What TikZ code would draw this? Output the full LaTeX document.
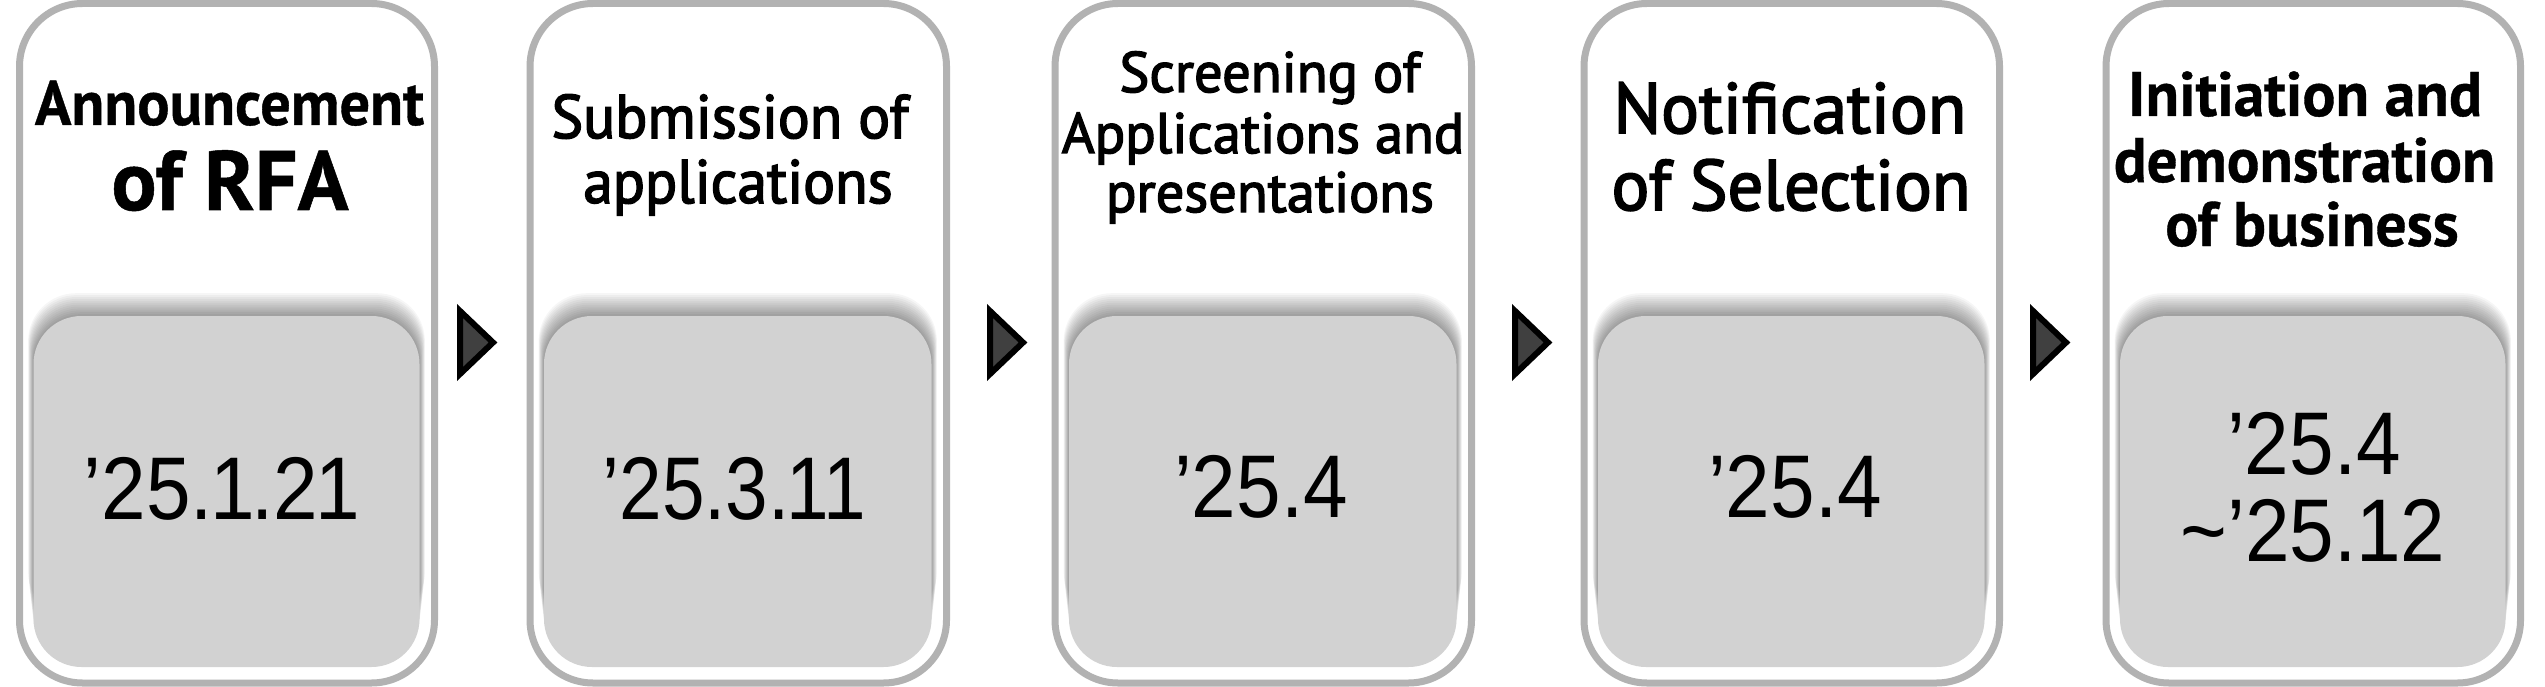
\documentclass[tikz,border=0pt]{standalone}
\usepackage{fontspec}
\usepackage{graphicx}
\setmainfont{PT Sans}
\newfontfamily\medfont{PT Sans}[FakeBold=2.5]
\newfontfamily\heavyfont{PT Sans}[BoldFeatures={FakeBold=0.6}]
\newfontfamily\datefont{Liberation Sans}
\definecolor{framegray}{HTML}{B2B2B2}
\definecolor{panelgray}{HTML}{D2D2D2}
\definecolor{arrowgray}{HTML}{404040}
\newcommand\sqz[2]{\scalebox{#1}[1]{#2}}
\newcommand\one{\kern-3.3pt1\kern-3.3pt}
\begin{document}
\begin{tikzpicture}[x=1pt,y=-1pt,
  outerbox/.style={draw=framegray,line width=7pt,rounded corners=63pt,fill=white},
  innerbox/.style={fill=panelgray,rounded corners=48pt},
  shadowlayer/.style={fill=black,fill opacity=0.035,rounded corners=48pt},
  tri/.style={draw=black,fill=arrowgray,line width=6pt,line join=miter},
  ttl/.style={anchor=base,inner sep=0pt,text=black},
  dt/.style={anchor=base,inner sep=0pt,font=\datefont\fontsize{89}{100}\selectfont}
]
\useasboundingbox (0,0) rectangle (2545,687);
\fill[white] (0,0) rectangle (2545,687);

\foreach \L/\R in {19.5/434.5, 530/946.5, 1055/1471.5, 1584/1999.5, 2106/2520.5} {
  \draw[outerbox] (\L,3.5) rectangle (\R,683);
  \foreach \k in {1,...,12} {
    \fill[shadowlayer] ({\L+14-\k*0.45},{316-\k*1.9}) rectangle ({\R-15+\k*0.45},{667-\k*4});
  }
  \fill[innerbox] ({\L+14},316) rectangle ({\R-15},667);
}

\foreach \a in {457,987,1512,2030} {
  \draw[tri] ({\a+3},311) -- ({\a+3},374) -- ({\a+36},342.5) -- cycle;
}

% titles
\node[ttl,font=\heavyfont\bfseries\fontsize{62.9}{70}\selectfont] (t1a) at (229.5,125) {\sqz{0.96}{Announcement}};
\node[ttl,font=\heavyfont\bfseries\fontsize{84.3}{90}\selectfont] (t1b) at (230,210) {\sqz{1.0}{of RFA}};

\node[ttl,font=\medfont\fontsize{61.4}{70}\selectfont] (t2a) at (730,138) {\sqz{0.97}{Submission of}};
\node[ttl,font=\medfont\fontsize{61.4}{70}\selectfont] (t2b) at (738,203) {\sqz{0.97}{applications}};

\node[ttl,font=\medfont\fontsize{57}{64}\selectfont] (t3a) at (1270,92) {\sqz{0.99}{Screening of}};
\node[ttl,font=\medfont\fontsize{57}{64}\selectfont] (t3b) at (1263,153) {\sqz{0.99}{Applications and}};
\node[ttl,font=\medfont\fontsize{57}{64}\selectfont] (t3c) at (1270,212) {\sqz{0.99}{presentations}};

\node[ttl,font=\medfont\fontsize{71.4}{80}\selectfont] (t4a) at (1790,133) {\sqz{0.99}{Notification}};
\node[ttl,font=\medfont\fontsize{71.4}{80}\selectfont] (t4b) at (1791,210) {\sqz{0.99}{of Selection}};

\node[ttl,font=\heavyfont\bfseries\fontsize{62.9}{70}\selectfont] (t5a) at (2305,116) {\sqz{0.98}{Initiation and}};
\node[ttl,font=\heavyfont\bfseries\fontsize{62.9}{70}\selectfont] (t5b) at (2304.5,182) {\sqz{0.97}{demonstration}};
\node[ttl,font=\heavyfont\bfseries\fontsize{62.9}{70}\selectfont] (t5c) at (2312,246) {\sqz{0.98}{of business}};

% dates
\node[dt] (d1) at (220.5,519) {\sqz{0.9}{’25.\one.2\one}};
\node[dt] (d2) at (733,519) {\sqz{0.86}{’25.3.\one\one}};
\node[dt] (d3) at (1261,517) {\sqz{0.9}{’25.4}};
\node[dt] (d4) at (1795,517) {\sqz{0.9}{’25.4}};
\node[dt] (d5a) at (2314,474) {\sqz{0.9}{’25.4}};
\node[dt] (d5b) at (2313,561) {\sqz{0.9}{\textasciitilde’25.12}};
\end{tikzpicture}
\end{document}
